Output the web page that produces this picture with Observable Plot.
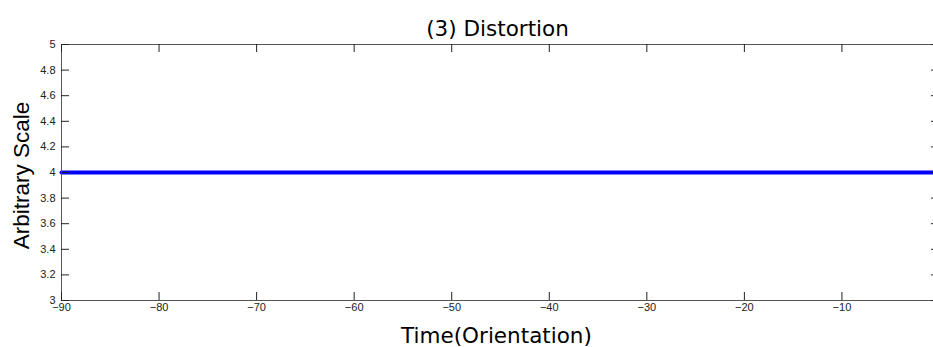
<!DOCTYPE html>
<html><head><meta charset="utf-8">
<script src="https://cdn.jsdelivr.net/npm/d3@7"></script>
<script src="https://cdn.jsdelivr.net/npm/@observablehq/plot@0.6"></script>
<style>html,body{margin:0;padding:0;background:#fff;overflow:hidden}</style>
</head><body><div id="chart"></div>
<script>
const times = [-90, 0];
const values = [4, 4];
const xTicks = [-90, -80, -70, -60, -50, -40, -30, -20, -10];
const yTicks = [3, 3.2, 3.4, 3.6, 3.8, 4, 4.2, 4.4, 4.6, 4.8, 5];
const titleText = "(3) Distortion";
const xLabel = "Time(Orientation)";
const yLabel = "Arbitrary Scale";
const data = times.map((t, i) => ({t, v: values[i]}));
const yFmt = d => String(+(+d).toFixed(1));
const xFmt = d => String(d).replace("-", "\u2212");
const W = 933, H = 347, mT = 44, mB = 47, mL = 61, mR = -6, tick = 8;
const fw = W - mL - mR, fh = H - mT - mB;
const chart = Plot.plot({
  width: W, height: H,
  marginTop: mT, marginBottom: mB, marginLeft: mL, marginRight: mR,
  x: {domain: [-90, 0]},
  y: {domain: [3, 5]},
  style: {background: "#fff", fontFamily: "'Liberation Sans', Arial, sans-serif", fontSize: "11px", color: "#222", overflow: "visible"},
  marks: [
    Plot.lineY(data, {x: "t", y: "v", stroke: "#0000ff", strokeWidth: 4}),
    Plot.frame({stroke: "#555"}),
    Plot.tickX(xTicks, {x: d => d, insetTop: fh - tick, stroke: "#222"}),
    Plot.tickX(xTicks, {x: d => d, insetBottom: fh - tick, stroke: "#222"}),
    Plot.tickY(yTicks, {y: d => d, insetRight: fw - tick, stroke: "#222"}),
    Plot.tickY(yTicks, {y: d => d, insetLeft: fw - tick, stroke: "#222"}),
    Plot.axisX({anchor: "bottom", ticks: xTicks, tickSize: 0, tickPadding: 3, tickFormat: xFmt, label: null, fill: "#222"}),
    Plot.axisY({anchor: "left", ticks: yTicks, tickSize: 0, tickPadding: 6, tickFormat: yFmt, label: null, fill: "#222"}),
    Plot.text([titleText], {frameAnchor: "top", dx: -3, dy: -9, fontSize: 21.5, fill: "#000", fontFamily: "'DejaVu Sans', sans-serif", lineAnchor: "bottom"}),
    Plot.text([xLabel], {frameAnchor: "bottom", dx: -4, dy: 42, fontSize: 21.5, fill: "#000", fontFamily: "'DejaVu Sans', sans-serif", lineAnchor: "bottom"}),
    Plot.text([yLabel], {frameAnchor: "left", dx: -33, dy: 3, rotate: -90, textAnchor: "middle", fontSize: 22.5, fill: "#000", fontFamily: "'Liberation Sans', Arial, sans-serif", lineAnchor: "bottom"})
  ]
});
document.getElementById("chart").appendChild(chart);
</script>
</body></html>
